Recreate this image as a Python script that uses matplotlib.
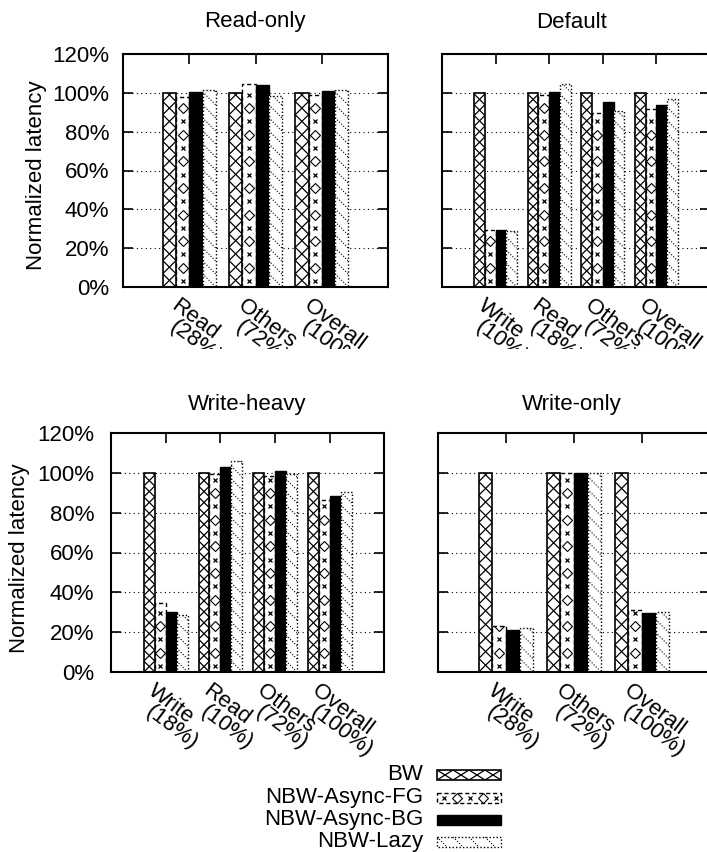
import numpy as np
import matplotlib.pyplot as plt
from matplotlib.patches import Rectangle
from matplotlib.collections import LineCollection
from matplotlib.transforms import blended_transform_factory, ScaledTranslation, Bbox, TransformedBbox

plt.rcParams['font.family'] = ['Liberation Sans', 'DejaVu Sans']
plt.rcParams['font.size'] = 16

W, H = 707, 852

series = ['BW', 'NBW-Async-FG', 'NBW-Async-BG', 'NBW-Lazy']
kinds = ['bw', 'fg', 'bg', 'lazy']

# Read-only workload
ro_labels = ['Read\n(28%)', 'Others\n(72%)', 'Overall\n(100%)']
ro_bw = [100, 100, 100]
ro_fg = [98.0, 104.4, 98.8]
ro_bg = [100.5, 103.9, 101.0]
ro_lazy = [101.7, 98.3, 101.7]

# Default workload
df_labels = ['Write\n(10%)', 'Read\n(18%)', 'Others\n(72%)', 'Overall\n(100%)']
df_bw = [100, 100, 100, 100]
df_fg = [29.6, 98.8, 89.4, 91.5]
df_bg = [29.1, 100.5, 95.4, 93.5]
df_lazy = [28.7, 104.4, 90.6, 96.6]

# Write-heavy workload
wh_labels = ['Write\n(18%)', 'Read\n(10%)', 'Others\n(72%)', 'Overall\n(100%)']
wh_bw = [100, 100, 100, 100]
wh_fg = [34.4, 99.3, 98.5, 86.3]
wh_bg = [30.3, 103.0, 101.0, 88.5]
wh_lazy = [28.6, 106.0, 99.3, 90.3]

# Write-only workload
wo_labels = ['Write\n(28%)', 'Others\n(72%)', 'Overall\n(100%)']
wo_bw = [100, 100, 100]
wo_fg = [23.1, 100.0, 31.1]
wo_bg = [21.1, 99.7, 29.8]
wo_lazy = [21.9, 100.0, 30.3]

yticks = [0, 20, 40, 60, 80, 100, 120]
ytick_labels = ['%d%%' % v for v in yticks]

# title, labels, values, box (left, top, right, bottom) in pixels, tick pad, title pos, ylabel pos
panels = [
    ('Read-only', ro_labels, [ro_bw, ro_fg, ro_bg, ro_lazy], (123, 54, 388, 287), 10, (255, 22), (37, 175)),
    ('Default', df_labels, [df_bw, df_fg, df_bg, df_lazy], (442, 54, 710, 287), None, (572, 22), None),
    ('Write-heavy', wh_labels, [wh_bw, wh_fg, wh_bg, wh_lazy], (111, 433, 384.5, 672), 12, (247, 405), (19.5, 558)),
    ('Write-only', wo_labels, [wo_bw, wo_fg, wo_bg, wo_lazy], (438, 433, 710, 672), None, (572, 405), None),
]

outline = {'bw': ('-', 1.2), 'fg': ((0, (3, 2)), 1.0), 'lazy': ((0, (1, 1.5)), 1.0)}


def draw_bar(ax, kind, x0, w, h, sx, sy):
    # sx, sy are pixels per data unit
    if kind == 'bg':
        ax.add_patch(Rectangle((x0, 0), w, h, facecolor='black', edgecolor='black', lw=1, zorder=2))
        return
    wpx = w * sx
    rect = Rectangle((x0, 0), w, h, facecolor='white', edgecolor='none', zorder=2)
    ax.add_patch(rect)
    if kind == 'bw':
        dy = wpx / sy
        ks = np.arange(int(h / dy) + 2)
        segs = [[(x0, k * dy), (x0 + w, (k + 1) * dy)] for k in ks]
        segs += [[(x0, (k + 1) * dy), (x0 + w, k * dy)] for k in ks]
        lc = LineCollection(segs, colors='black', linewidths=0.9, zorder=3)
        ax.add_collection(lc)
        lc.set_clip_path(rect)
    elif kind == 'lazy':
        span = wpx / sy
        step = 13 / sy
        ks = np.arange(-1, int(h / step) + 2)
        segs = [[(x0, k * step + span), (x0 + w, k * step)] for k in ks]
        lc = LineCollection(segs, colors='black', linewidths=0.8, linestyles=[(0, (1, 1.6))], zorder=3)
        ax.add_collection(lc)
        lc.set_clip_path(rect)
    elif kind == 'fg':
        step = 13.3 / sy
        ys = np.arange(6 / sy, h, step)
        xc = x0 + w / 2
        l1, = ax.plot(np.full(len(ys[0::2]), xc), ys[0::2], 'x', ms=3, mew=0.9, color='black', zorder=3)
        l2, = ax.plot(np.full(len(ys[1::2]), xc), ys[1::2], 'D', ms=4.6, mfc='white', mec='black', mew=0.8, zorder=3)
        l1.set_clip_path(rect)
        l2.set_clip_path(rect)
    ls, lw = outline[kind]
    ax.add_patch(Rectangle((x0, 0), w, h, fill=False, edgecolor='black', lw=lw, linestyle=ls, zorder=4))


fig = plt.figure(figsize=(W / 100, H / 100), dpi=100)

# the upper row's category labels are cut off where the lower row's area begins
upper_clip = TransformedBbox(Bbox([[0, 1 - 349 / H], [1, 1]]), fig.transFigure)

rot = -37
for title, labels, values, box, pad, tpos, ypos in panels:
    l, t, r, b = box
    ax = fig.add_axes([l / W, 1 - b / H, (r - l) / W, (b - t) / H])
    n = len(labels)
    sx = (r - l) / (n + 1)
    sy = (b - t) / 120
    x = np.arange(n)
    bw = 0.2
    for j, (kind, vals) in enumerate(zip(kinds, values)):
        for i, v in enumerate(vals):
            draw_bar(ax, kind, x[i] + (j - 2) * bw, bw, v, sx, sy)
    ax.set_xlim(-1, n)
    ax.set_ylim(0, 120)
    ax.set_yticks(yticks)
    if pad is None:
        ax.set_yticklabels([])
        pad = 10
    else:
        ax.set_yticklabels(ytick_labels)
    ax.set_xticks(x)
    ax.set_xticklabels([])
    ax.yaxis.grid(True, linestyle=(0, (1, 3)), color='black', lw=0.8)
    ax.set_axisbelow(True)
    ax.tick_params(axis='y', direction='in', length=7, width=1.2, left=True, right=True, pad=pad)
    ax.tick_params(axis='x', direction='in', length=7, width=1.2, top=True, bottom=True)
    for s in ax.spines.values():
        s.set_linewidth(1.5)
        s.set_zorder(5)
    base = blended_transform_factory(ax.transData, ax.transAxes)
    for i, lab in enumerate(labels):
        # each line of the rotated label is placed separately, second line just below the first
        for k, part in enumerate(lab.split('\n')):
            off = ScaledTranslation((-9 - 2 * k) / 100, (-8 - 21 * k) / 100, fig.dpi_scale_trans)
            txt = ax.text(x[i], 0, part, transform=base + off, rotation=rot, rotation_mode='anchor',
                          ha='left', va='top', clip_on=(t < 200))
            if t < 200:
                txt.set_clip_box(upper_clip)
    fig.text(tpos[0] / W, 1 - tpos[1] / H, title, ha='center', va='center')
    if ypos is not None:
        fig.text(ypos[0] / W, 1 - ypos[1] / H, 'Normalized latency', rotation=90,
                 ha='center', va='center')

# legend drawn on a pixel-space overlay
lax = fig.add_axes([0, 0, 1, 1])
lax.set_xlim(0, W)
lax.set_ylim(H, 0)
lax.axis('off')
rows = [775, 797.5, 820, 842]
sw_x, sw_w, sw_h = 437, 64, 10
for name, kind, yr in zip(series, kinds, rows):
    lax.text(423, yr, name, ha='right', va='center')
    top = yr - sw_h / 2
    if kind == 'bg':
        lax.add_patch(Rectangle((sw_x, top), sw_w, sw_h, facecolor='black', edgecolor='black', lw=1))
        continue
    rect = Rectangle((sw_x, top), sw_w, sw_h, facecolor='white', edgecolor='none')
    lax.add_patch(rect)
    if kind == 'bw':
        p = 16
        ks = np.arange(-1, int(sw_w / p) + 2)
        segs = [[(sw_x + k * p, top), (sw_x + (k + 1) * p, top + sw_h)] for k in ks]
        segs += [[(sw_x + (k + 1) * p, top), (sw_x + k * p, top + sw_h)] for k in ks]
        lc = LineCollection(segs, colors='black', linewidths=0.9)
        lax.add_collection(lc)
        lc.set_clip_path(rect)
    elif kind == 'lazy':
        p = 16
        ks = np.arange(-1, int(sw_w / p) + 2)
        segs = [[(sw_x + k * p, top), (sw_x + k * p + sw_h, top + sw_h)] for k in ks]
        lc = LineCollection(segs, colors='black', linewidths=0.8, linestyles=[(0, (1, 1.6))])
        lax.add_collection(lc)
        lc.set_clip_path(rect)
    elif kind == 'fg':
        xs = sw_x + 6.5 + 13 * np.arange(5)
        l1, = lax.plot(xs[0::2], np.full(3, yr), 'x', ms=3, mew=0.9, color='black')
        l2, = lax.plot(xs[1::2], np.full(2, yr), 'D', ms=4.6, mfc='white', mec='black', mew=0.8)
        l1.set_clip_path(rect)
        l2.set_clip_path(rect)
    ls, lw = outline[kind]
    lax.add_patch(Rectangle((sw_x, top), sw_w, sw_h, fill=False, edgecolor='black', lw=lw, linestyle=ls))
lax.set_xlim(0, W)
lax.set_ylim(H, 0)

fig.savefig('out.png', dpi=100)
